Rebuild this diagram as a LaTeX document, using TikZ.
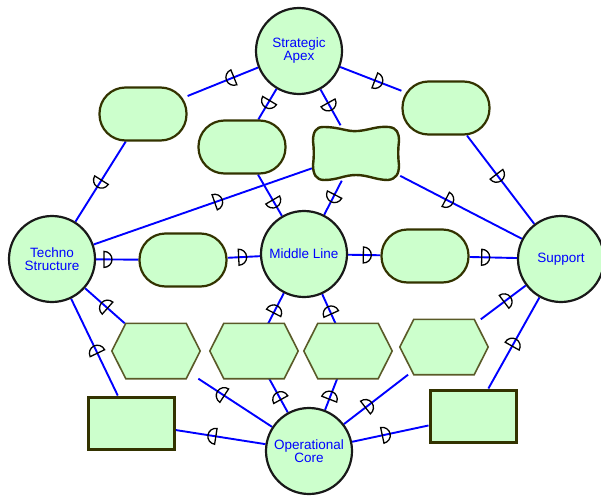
\documentclass[tikz,border=0pt]{standalone}
\usepackage{fontspec}
\setmainfont{Liberation Sans}
\usetikzlibrary{decorations.markings}
\pgfdeclarelayer{background}
\pgfsetlayers{background,main}
\definecolor{leaf}{RGB}{204,255,204}
\definecolor{olivedark}{RGB}{51,51,0}
\definecolor{olivehex}{RGB}{90,90,40}
\definecolor{linkblue}{RGB}{0,0,255}

\begin{document}
\begin{tikzpicture}[x=1pt,y=-1pt,
  actor/.style={circle,draw=black!90,line width=2.2pt,fill=leaf,minimum size=86pt,inner sep=0pt,
    text=linkblue,align=center,font=\fontsize{13.5}{13}\selectfont},
  goal/.style={rectangle,rounded corners=26pt,draw=olivedark,line width=2.2pt,fill=leaf,
    minimum width=87pt,minimum height=53pt,inner sep=0pt},
  res/.style={rectangle,draw=olivedark,line width=3pt,fill=leaf,minimum width=86pt,minimum height=52pt,inner sep=0pt},
  tasknode/.style={rectangle,minimum width=88pt,minimum height=55pt,inner sep=0pt},
  hexline/.style={draw=olivehex,line width=1.6pt,fill=leaf,line join=miter},
  softline/.style={draw=olivedark,line width=2.4pt,fill=leaf},
  dep/.style={draw=linkblue,line width=1.9pt,postaction={decorate,decoration={markings,
    mark=at position #1 with {\draw[black,line width=1.3pt] (-3.5pt,-8pt) arc[start angle=-90,end angle=90,radius=8pt] -- cycle;}}}}]
\useasboundingbox (0,0) rectangle (601,495);

% actors
\node[actor] (apex) at (299,51) {Strategic\\Apex};
\node[actor] (techno) at (52,259) {Techno\\Structure};
\node[actor] (ml) at (304,254) {Middle Line};
\node[actor] (support) at (561,259) {Support};
\node[actor] (core) at (309,451) {Operational\\Core};

% goals
\node[goal] (g1) at (143,114) {};
\node[goal] (g2) at (242,147) {};
\node[goal] (g3) at (446,108) {};
\node[goal] (g4) at (183,260) {};
\node[goal] (g5) at (425,256) {};

% softgoal
\node[tasknode] (sg) at (356,153) {};
\draw[softline,shift={(sg.center)}] (-33,-26)
  .. controls (-15,-26) and (-10,-21) .. (2,-22) .. controls (14,-23) and (20,-27) .. (33,-26)
  .. controls (41,-25) and (43,-20) .. (43,-12) .. controls (42,-4) and (42,4) .. (43,12)
  .. controls (43,21) and (40,26) .. (32,27) .. controls (20,27) and (12,22) .. (0,22)
  .. controls (-12,22) and (-18,27) .. (-32,27) .. controls (-40,27) and (-43,21) .. (-43,12)
  .. controls (-42,4) and (-42,-4) .. (-43,-12) .. controls (-43,-21) and (-40,-26) .. (-33,-26) -- cycle;

% tasks
\node[tasknode] (h1) at (156,351) {};
\node[tasknode] (h2) at (254,351) {};
\node[tasknode] (h3) at (348,351) {};
\node[tasknode] (h4) at (444,347) {};
\foreach \h in {h1,h2,h3,h4}
  \draw[hexline] (\h.west) -- ([xshift=14pt]\h.north west) -- ([xshift=-14pt]\h.north east)
    -- (\h.east) -- ([xshift=-14pt]\h.south east) -- ([xshift=14pt]\h.south west) -- cycle;

% resources
\node[res] (r1) at (131,423) {};
\node[res] (r2) at (473,416) {};

\begin{pgfonlayer}{background}
\draw[dep=0.39] (apex) -- (g1);
\draw[dep=0.52] (g1) -- (techno);
\draw[dep=0.48] (apex) -- (g2);
\draw[dep=0.69] (g2) -- (ml);
\draw[dep=0.46] (apex) -- (sg);
\draw[dep=0.5] (sg) -- (ml);
\draw[dep=0.62] (apex) -- (g3);
\draw[dep=0.47] (g3) -- (support);
\draw[dep=0.57] (techno) -- (sg);
\draw[dep=0.4] (sg) -- (support);
\draw[dep=0.27] (techno) -- (g4);
\draw[dep=0.45] (g4) -- (ml);
\draw[dep=0.58] (ml) -- (g5);
\draw[dep=0.33] (g5) -- (support);
\draw[dep=0.69] (core) -- (h1);
\draw[dep=0.5] (h1) -- (techno);
\draw[dep=0.59] (core) -- (r1);
\draw[dep=0.47] (r1) -- (techno);
\draw[dep=0.47] (core) -- (h2);
\draw[dep=0.45] (h2) -- (ml);
\draw[dep=0.45] (core) -- (h3);
\draw[dep=0.43] (h3) -- (ml);
\draw[dep=0.38] (core) -- (h4);
\draw[dep=0.58] (h4) -- (support);
\draw[dep=0.44] (core) -- (r2);
\draw[dep=0.5] (r2) -- (support);
\end{pgfonlayer}
\end{tikzpicture}
\end{document}
